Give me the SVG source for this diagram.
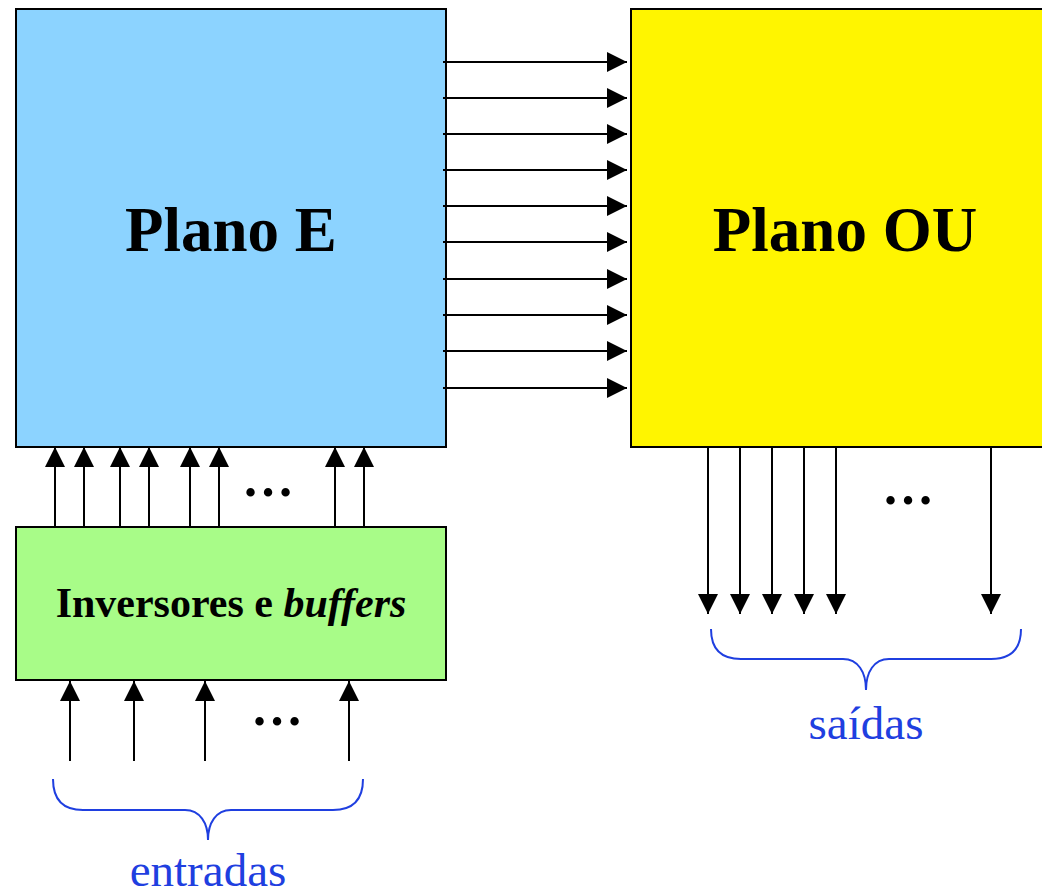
<svg xmlns="http://www.w3.org/2000/svg" width="1042" height="894" viewBox="0 0 1042 894">
<style>
.box{stroke:#000;stroke-width:2}
.ttl{font-family:"Liberation Serif","Times New Roman",serif;font-weight:bold;font-size:63px;text-anchor:middle;fill:#000}
.lbl{font-family:"Liberation Serif","Times New Roman",serif;font-weight:bold;font-size:42px;text-anchor:middle;fill:#000}
.dots{font-family:"Liberation Serif","Times New Roman",serif;font-weight:bold;font-size:52px;text-anchor:middle;fill:#000}
.cap{font-family:"Liberation Serif","Times New Roman",serif;font-size:47px;text-anchor:middle;fill:#1f3fe0}
.w{stroke:#000;stroke-width:2;fill:none;marker-end:url(#ah)}
.br{stroke:#1f3fe0;stroke-width:2;fill:none}
</style>
<defs>
<marker id="ah" markerUnits="userSpaceOnUse" markerWidth="20" markerHeight="20" refX="20" refY="10" orient="auto" viewBox="0 0 20 20">
<path d="M0,0 L20,10 L0,20 z" fill="#000"/>
</marker>
</defs>
<g id="planoE">
<rect class="box" x="16" y="9" width="430" height="438" fill="#8cd3ff"/>
<text class="ttl" x="231" y="251">Plano E</text>
</g>
<g id="planoOU">
<rect class="box" x="631" y="9" width="420" height="438" fill="#fff500"/>
<text class="ttl" x="845" y="251">Plano OU</text>
</g>
<g id="inversores">
<rect class="box" x="16" y="527" width="430" height="153" fill="#a8fc88"/>
<text class="lbl" x="231" y="617">Inversores e <tspan font-style="italic">buffers</tspan></text>
</g>
<g id="connectors">
<line class="w" x1="443" y1="62" x2="627" y2="62"/>
<line class="w" x1="443" y1="98" x2="627" y2="98"/>
<line class="w" x1="443" y1="134" x2="627" y2="134"/>
<line class="w" x1="443" y1="170" x2="627" y2="170"/>
<line class="w" x1="443" y1="206" x2="627" y2="206"/>
<line class="w" x1="443" y1="242" x2="627" y2="242"/>
<line class="w" x1="443" y1="279" x2="627" y2="279"/>
<line class="w" x1="443" y1="315" x2="627" y2="315"/>
<line class="w" x1="443" y1="351" x2="627" y2="351"/>
<line class="w" x1="443" y1="388" x2="627" y2="388"/>
<line class="w" x1="55" y1="527" x2="55" y2="447"/>
<line class="w" x1="84" y1="527" x2="84" y2="447"/>
<line class="w" x1="120" y1="527" x2="120" y2="447"/>
<line class="w" x1="149" y1="527" x2="149" y2="447"/>
<line class="w" x1="190" y1="527" x2="190" y2="447"/>
<line class="w" x1="219" y1="527" x2="219" y2="447"/>
<line class="w" x1="335" y1="527" x2="335" y2="447"/>
<line class="w" x1="364" y1="527" x2="364" y2="447"/>
<line class="w" x1="708" y1="447" x2="708" y2="614"/>
<line class="w" x1="740" y1="447" x2="740" y2="614"/>
<line class="w" x1="772" y1="447" x2="772" y2="614"/>
<line class="w" x1="804" y1="447" x2="804" y2="614"/>
<line class="w" x1="836" y1="447" x2="836" y2="614"/>
<line class="w" x1="991" y1="447" x2="991" y2="614"/>
<line class="w" x1="70" y1="761" x2="70" y2="681"/>
<line class="w" x1="134" y1="761" x2="134" y2="681"/>
<line class="w" x1="205" y1="761" x2="205" y2="681"/>
<line class="w" x1="349" y1="761" x2="349" y2="681"/>
</g>
<g id="ellipses">
<text class="dots" x="268" y="496">…</text>
<text class="dots" x="908" y="504">…</text>
<text class="dots" x="277" y="725">…</text>
</g>
<g id="saidas">
<path class="br" d="M711,629 C711,650 722,659 741,659 L843,659 C858,659 866,672 866,690 C866,672 874,659 889,659 L991,659 C1010,659 1021,650 1021,629"/>
<text class="cap" x="866" y="739">saídas</text>
</g>
<g id="entradas">
<path class="br" d="M53,779 C53,800 64,810 83,810 L185,810 C200,810 208,823 208,840 C208,823 216,810 231,810 L333,810 C352,810 363,800 363,779"/>
<text class="cap" x="208" y="886">entradas</text>
</g>
</svg>
